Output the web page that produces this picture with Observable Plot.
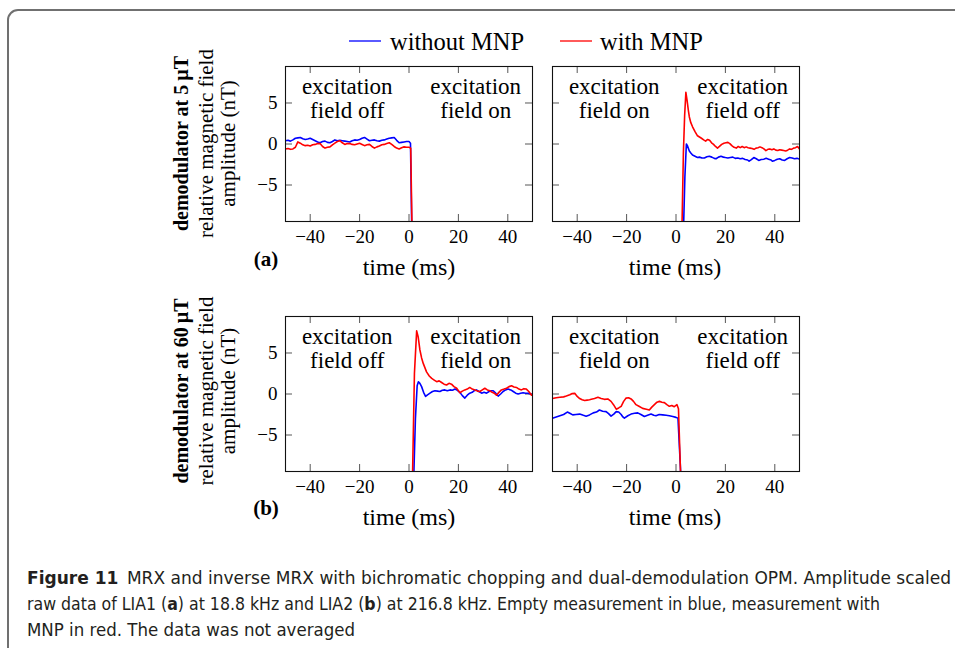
<!DOCTYPE html>
<html><head><meta charset="utf-8">
<script src="https://cdn.jsdelivr.net/npm/d3@7"></script>
<script src="https://cdn.jsdelivr.net/npm/@observablehq/plot@0.6"></script>
<style>
html,body{margin:0;padding:0;background:#fff;overflow:hidden;width:955px;height:648px;}
#root{position:relative;width:955px;height:648px;overflow:hidden;}
#border{position:absolute;left:7px;top:9px;width:1100px;height:800px;border:2px solid #707070;border-radius:11px;box-sizing:border-box;}
.panel{position:absolute;}
#overlay{position:absolute;left:0;top:0;}
#overlay text.serif{font-family:"Liberation Serif",serif;fill:#000;}
#overlay text.cap{font-family:"Liberation Sans Narrow","DejaVu Sans Condensed","Open Sans",sans-serif;font-stretch:condensed;fill:#231f20;}
</style></head><body>
<div id="root"><div id="border"></div></div>
<script>
// ---------- data ----------
const xTicks = [-40, -20, 0, 20, 40];
const yTicks = [-5, 0, 5];
const seriesNames = ["without MNP", "with MNP"];
const regionsLeft = ["excitation\nfield off", "excitation\nfield on"];
const regionsRight = ["excitation\nfield on", "excitation\nfield off"];

// (a) LIA1, left: chopping off -> on
const a1Blue = [[-50,0.4],[-49,0.45],[-48,0.35],[-47,0.5],[-46,0.7],[-45,0.75],[-44,0.8],[-43,0.65],[-42,0.55],[-41,0.6],[-40,0.7],[-39,0.55],[-38,0.4],[-37,0.25],[-36,0.15],[-35,0.3],[-34,0.35],[-33,0.2],[-32,0.15],[-31,0.3],[-30,0.5],[-29,0.4],[-28,0.45],[-27,0.4],[-26,0.35],[-25,0.3],[-24,0.25],[-23,0.4],[-22,0.5],[-21,0.45],[-20,0.55],[-19,0.7],[-18,0.8],[-17,0.6],[-16,0.4],[-15,0.45],[-14,0.5],[-13,0.4],[-12,0.35],[-11,0.45],[-10,0.5],[-9,0.6],[-8,0.7],[-7,0.75],[-6,0.8],[-5,0.45],[-4,0.15],[-3,0.2],[-2,0.25],[-1,0.3],[0,0.3],[0.6,0.1],[1.2,-12]];
const a1Red = [[-50,-0.6],[-49,-0.55],[-48,-0.65],[-47,-0.6],[-46,-0.4],[-45,0.25],[-44,0.1],[-43,-0.1],[-42,-0.2],[-41,-0.15],[-40,-0.25],[-39,-0.1],[-38,-0.05],[-37,0.05],[-36,0.05],[-35,-0.3],[-34,-0.5],[-33,-0.4],[-32,-0.35],[-31,-0.1],[-30,0.1],[-29,0.3],[-28,0.4],[-27,0.15],[-26,-0.05],[-25,0.05],[-24,0.05],[-23,-0.05],[-22,-0.1],[-21,0.0],[-20,0.1],[-19,-0.05],[-18,-0.2],[-17,-0.1],[-16,-0.05],[-15,-0.3],[-14,-0.5],[-13,-0.35],[-12,-0.25],[-11,-0.1],[-10,-0.05],[-9,0.05],[-8,0.15],[-7,-0.05],[-6,-0.3],[-5,-0.5],[-4,-0.6],[-3,-0.45],[-2,-0.35],[-1,-0.4],[0,-0.4],[0.7,-0.5],[1.3,-12]];

// (a) LIA1, right: chopping on -> off
const a2Blue = [[2.9,-12],[3.6,-4],[4.2,0],[4.6,-0.2],[5.4,-0.85],[6.0,-1.1],[6.7,-1.35],[7.7,-1.5],[8.7,-1.65],[9.5,-1.6],[10.5,-1.7],[11.5,-1.7],[12.5,-1.55],[13.5,-1.5],[14.5,-1.6],[15.5,-1.75],[16.2,-1.8],[17.2,-1.6],[18.2,-1.5],[19.2,-1.6],[20,-1.65],[21,-1.7],[22,-1.65],[23,-1.6],[24,-1.75],[25,-1.7],[26,-1.8],[27,-1.75],[28,-1.9],[29,-1.95],[29.6,-2.1],[30.5,-1.9],[31.5,-1.65],[32.5,-1.8],[33.5,-2.0],[34.5,-1.9],[35.5,-1.85],[36.5,-1.75],[37.5,-1.85],[38.5,-1.95],[39,-2.1],[40,-2.0],[41,-1.85],[42,-1.8],[43,-1.95],[44,-2.0],[45,-1.8],[46,-1.65],[47,-1.7],[48,-1.8],[49,-1.75],[50,-1.85]];
const a2Red = [[2.3,-12],[3.0,-1],[3.5,3.5],[4.0,6.3],[4.5,5.3],[5.0,4.1],[5.4,3.3],[6.0,2.6],[6.7,2.1],[7.7,1.5],[8.7,1.0],[9.5,0.85],[10.3,0.7],[11.2,0.5],[12,0.35],[12.8,0.55],[13.6,0.45],[14.4,0.15],[15.2,-0.05],[16,-0.3],[16.8,-0.5],[17.6,-0.3],[18.5,-0.05],[19.4,0.1],[20.2,0.15],[21,0.2],[21.8,0.05],[22.6,-0.2],[23.5,-0.4],[24.4,-0.5],[25.2,-0.3],[26,-0.45],[26.8,-0.3],[27.6,-0.45],[28.4,-0.35],[29.2,-0.45],[30,-0.5],[30.8,-0.55],[31.6,-0.65],[32.4,-0.5],[33.2,-0.45],[34,-0.35],[34.8,-0.45],[35.6,-0.6],[36.4,-0.8],[37.2,-0.65],[38,-0.6],[38.8,-0.7],[39.6,-0.6],[40.4,-0.75],[41.2,-0.8],[42,-0.7],[42.8,-0.75],[43.6,-0.8],[44.4,-0.85],[45.2,-0.75],[46,-0.6],[46.8,-0.65],[47.6,-0.5],[48.4,-0.45],[49.2,-0.3],[50,-0.6]];

// (b) LIA2, left: chopping off -> on
const b1Blue = [[1.75,-12],[2.6,-3],[3.3,1.0],[3.8,1.5],[4.4,1.3],[5.1,0.9],[5.9,0.2],[6.7,-0.3],[7.5,-0.1],[8.5,0.1],[9.5,0.3],[10.5,0.4],[11.5,0.35],[12.5,0.3],[13.5,0.45],[14.5,0.5],[15.5,0.4],[16.6,0.5],[17.6,0.45],[18.6,0.6],[19.6,0.45],[20.6,0.2],[21.6,-0.2],[22.6,-0.5],[23.6,-0.15],[24.6,0.1],[25.6,0.2],[26.4,0.4],[27.3,0.5],[28.3,0.3],[29.4,0.1],[30.4,0.2],[31.4,0.1],[32.4,0.3],[33.3,0.4],[34.1,0.4],[35.1,0.1],[36.1,-0.25],[37.1,0.0],[38.1,0.3],[39.1,0.5],[40.1,0.6],[41.2,0.5],[42.2,0.3],[43.2,0.1],[44.2,0.0],[45.2,0.1],[46.2,0.16],[47.2,0.1],[48.2,0.1],[49.2,0.0],[50,-0.1]];
const b1Red = [[1.3,-12],[2.2,2.5],[3.1,7.7],[3.7,7.0],[4.4,5.4],[5.1,4.4],[5.8,3.7],[7.1,2.7],[8.2,2.2],[9.2,1.9],[10.2,1.7],[11.2,1.5],[12.2,1.6],[13.2,1.4],[14.2,1.2],[15.2,1.1],[16.2,1.3],[17.2,1.2],[18.2,0.9],[19.3,0.7],[20.6,0.15],[21.6,0.35],[22.6,0.5],[23.6,0.6],[24.6,0.8],[25.6,0.6],[26.7,0.5],[27.7,0.35],[28.7,0.3],[29.7,0.5],[30.7,0.7],[31.7,0.5],[32.7,0.4],[33.7,0.2],[34.5,0.1],[35.4,-0.15],[36.4,0.2],[37.4,0.5],[38.5,0.6],[39.5,0.7],[40.5,0.9],[41.5,1.0],[42.5,0.85],[43.5,0.8],[44.5,0.6],[45.5,0.5],[46.5,0.65],[47.5,0.6],[48.5,0.3],[49.6,-0.15],[50,0]];

// (b) LIA2, right: chopping on -> off
const b2Blue = [[-50,-2.95],[-48.5,-2.8],[-47,-2.65],[-45.5,-2.5],[-44,-2.2],[-43,-2.35],[-41.8,-2.55],[-40.5,-2.5],[-39,-2.45],[-37.5,-2.6],[-36.4,-2.7],[-35,-2.55],[-33.5,-2.3],[-32.2,-2.2],[-31,-1.95],[-29.7,-2.1],[-28.3,-2.15],[-27.3,-2.4],[-26.3,-2.7],[-25.2,-2.45],[-24.2,-2.15],[-23.2,-2.2],[-22.2,-2.5],[-21.5,-2.8],[-20.9,-2.95],[-19.5,-2.65],[-18.2,-2.45],[-16.8,-2.35],[-15.5,-2.3],[-14.2,-2.5],[-12.8,-2.75],[-11.5,-2.6],[-10.1,-2.45],[-9,-2.6],[-8.1,-2.65],[-6.8,-2.5],[-5.4,-2.55],[-4,-2.6],[-2.7,-2.65],[-1.3,-2.75],[0,-2.85],[0.8,-2.95],[2.3,-12]];
const b2Red = [[-50,-0.55],[-48.5,-0.45],[-47,-0.4],[-45.5,-0.35],[-44.4,-0.25],[-43,-0.1],[-42,0.05],[-41,0.08],[-40,-0.3],[-39,-0.55],[-38,-0.7],[-37,-0.8],[-36,-0.75],[-35,-0.7],[-34.3,-0.65],[-33,-0.55],[-31.6,-0.4],[-30.3,-0.55],[-29,-0.65],[-27.6,-0.6],[-26.3,-0.9],[-25.3,-1.3],[-24.2,-1.85],[-23.2,-1.7],[-22.2,-1.5],[-21.2,-0.9],[-20.2,-0.5],[-19.2,-0.45],[-18.2,-0.6],[-17.2,-0.9],[-16.2,-1.3],[-15,-1.5],[-13.5,-1.75],[-12,-1.85],[-10.8,-1.95],[-9.8,-1.6],[-8.75,-1.3],[-7.7,-1.0],[-6.7,-0.9],[-5.7,-1.0],[-4.7,-1.05],[-3.7,-1.3],[-2.7,-1.5],[-1.7,-1.4],[-0.7,-1.55],[0.4,-1.3],[1.0,-1.8],[2.1,-12]];

// ---------- layout ----------
const BLUE = "#0000ff", RED = "#ff0000";
const PW = 247, PH = 155, ML = 40, MR = 10, MT = 10, MB = 40;
const fmt = d => d < 0 ? "\u2212" + (-d) : String(d);
const root = document.getElementById("root");

function panel(blue, red, labels, showY, px, py) {
  const marks = [
    Plot.axisX(xTicks, {tickSize: 0, tickPadding: 8, tickFormat: fmt, label: null, fontSize: 19}),
    Plot.tickX(xTicks, {x: d => d, insetTop: PH - 7, stroke: "#444", strokeWidth: 0.9}),
    Plot.tickX(xTicks, {x: d => d, insetBottom: PH - 7, stroke: "#444", strokeWidth: 0.9}),
    Plot.tickY(yTicks, {y: d => d, insetRight: PW - 7, stroke: "#444", strokeWidth: 0.9}),
    Plot.tickY(yTicks, {y: d => d, insetLeft: PW - 7, stroke: "#444", strokeWidth: 0.9}),
    Plot.line(blue, {x: d => d[0], y: d => d[1], stroke: BLUE, strokeWidth: 1.6, clip: true}),
    Plot.line(red, {x: d => d[0], y: d => d[1], stroke: RED, strokeWidth: 1.6, clip: true}),
    Plot.text([{t: -25, s: labels[0]}, {t: 27, s: labels[1]}], {
      x: "t", text: "s", frameAnchor: "top", lineAnchor: "top", textAnchor: "middle",
      dy: 11, fontSize: 23, lineHeight: 1.02, fill: "#000"
    }),
    Plot.frame({stroke: "#111", strokeWidth: 1.1})
  ];
  if (showY) marks.push(Plot.axisY(yTicks, {tickSize: 0, tickPadding: 8, tickFormat: fmt, label: null, fontSize: 19}));
  const chart = Plot.plot({
    width: ML + PW + MR, height: MT + PH + MB,
    marginLeft: ML, marginRight: MR, marginTop: MT, marginBottom: MB,
    x: {domain: [-50, 50]},
    y: {domain: [-9.45, 9.45], axis: showY ? undefined : null},
    style: {fontFamily: '"Liberation Serif", serif', fontSize: "19px", background: "transparent", color: "#000", overflow: "visible"},
    marks
  });
  chart.classList.add("panel");
  chart.style.left = (px - ML) + "px";
  chart.style.top = (py - MT) + "px";
  root.appendChild(chart);
}

panel(a1Blue, a1Red, regionsLeft, true, 285, 66);
panel(a2Blue, a2Red, regionsRight, false, 552, 66);
panel(b1Blue, b1Red, regionsLeft, true, 285, 316);
panel(b2Blue, b2Red, regionsRight, false, 552, 316);

// ---------- overlay texts ----------
const NS = "http://www.w3.org/2000/svg";
const ov = document.createElementNS(NS, "svg");
ov.setAttribute("id", "overlay");
ov.setAttribute("width", 955); ov.setAttribute("height", 648);
root.appendChild(ov);
function el(tag, attrs, text) {
  const e = document.createElementNS(NS, tag);
  for (const k in attrs) e.setAttribute(k, attrs[k]);
  if (text != null) e.textContent = text;
  ov.appendChild(e);
  return e;
}
// legend
el("line", {x1: 349, x2: 381, y1: 41, y2: 41, stroke: BLUE, "stroke-width": 1.3});
el("text", {x: 390, y: 50, class: "serif", "font-size": 24.5}, seriesNames[0]);
el("line", {x1: 560, x2: 592, y1: 41, y2: 41, stroke: RED, "stroke-width": 1.3});
el("text", {x: 600, y: 50, class: "serif", "font-size": 24.5}, seriesNames[1]);

// axis titles
for (const [cx, by] of [[409, 275], [675, 275], [409, 525], [675, 525]]) {
  el("text", {x: cx, y: by, class: "serif", "font-size": 24, "text-anchor": "middle"}, "time (ms)");
}
const yLab = [["demodulator at 5\u2009\u00b5T", 143.5, "(a)", 266], ["demodulator at 60\u2009\u00b5T", 391, "(b)", 515]];
for (const [bold, cy, tag, tagY] of yLab) {
  el("text", {transform: `translate(188,${cy}) rotate(-90)`, class: "serif", "font-size": 20, "font-weight": "bold", "text-anchor": "middle"}, bold);
  el("text", {transform: `translate(213,${cy}) rotate(-90)`, class: "serif", "font-size": 21, "text-anchor": "middle"}, "relative magnetic field");
  el("text", {transform: `translate(235,${cy}) rotate(-90)`, class: "serif", "font-size": 21, "text-anchor": "middle"}, "amplitude (nT)");
  el("text", {x: 266, y: tagY, class: "serif", "font-size": 21, "font-weight": "bold", "text-anchor": "middle"}, tag);
}

// caption
function capLine(y, len, parts) {
  const t = el("text", {x: 27, y, class: "cap", "font-size": 17, textLength: len, lengthAdjust: "spacingAndGlyphs"});
  for (const [s, b] of parts) {
    const ts = document.createElementNS(NS, "tspan");
    if (b) ts.setAttribute("font-weight", "bold");
    ts.textContent = s;
    t.appendChild(ts);
  }
}
capLine(584, 924, [["Figure 11", true], ["\u2002MRX and inverse MRX with bichromatic chopping and dual-demodulation OPM. Amplitude scaled", false]]);
capLine(610, 853, [["raw data of LIA1 (", false], ["a", true], [") at 18.8 kHz and LIA2 (", false], ["b", true], [") at 216.8 kHz. Empty measurement in blue, measurement with", false]]);
capLine(636, 328, [["MNP in red. The data was not averaged", false]]);
</script>
</body></html>
